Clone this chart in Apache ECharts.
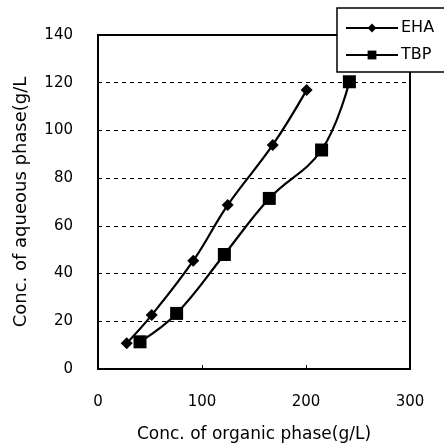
<!DOCTYPE html>
<html>
<head>
<meta charset="utf-8">
<script src="https://cdn.jsdelivr.net/npm/echarts@6/dist/echarts.min.js"></script>
<style>
  html, body { margin: 0; padding: 0; background: #fff; }
  #chart { width: 444px; height: 446px; }
</style>
</head>
<body>
<div id="chart"></div>
<script>
// Organic-phase vs aqueous-phase concentration (g/L) for two extractants
const ehaOrganic = [27.6, 51.6, 91.6, 124.7, 168.0, 200.6];
const ehaAqueous = [10.8, 22.6, 45.4, 68.7, 93.9, 116.9];
const tbpOrganic = [40.4, 75.6, 121.5, 164.7, 215.0, 241.7];
const tbpAqueous = [11.4, 23.3, 48.0, 71.5, 91.8, 120.4];
const seriesNames = ['EHA', 'TBP'];
const xTicks = [0, 100, 200, 300];
const yTicks = [0, 20, 40, 60, 80, 100, 120, 140];

const pairs = (xs, ys) => xs.map((x, i) => [x, ys[i]]);
const FONT = 'DejaVu Sans';

const chart = echarts.init(document.getElementById('chart'), null, { renderer: 'canvas' });
chart.setOption({
  animation: false,
  backgroundColor: '#fff',
  textStyle: { fontFamily: FONT, color: '#000' },
  grid: {
    left: 98, right: 34, top: 35, bottom: 77,
    containLabel: false, outerBoundsMode: 'none',
    show: true, borderColor: '#000', borderWidth: 2, backgroundColor: 'transparent'
  },
  legend: {
    data: seriesNames,
    orient: 'vertical',
    left: 337, top: 8,
    padding: [12, 40, 9, 8],
    itemWidth: 52, itemHeight: 11, itemGap: 11,
    backgroundColor: '#fff',
    borderColor: '#000', borderWidth: 1.5,
    textStyle: { fontFamily: FONT, fontSize: 16, color: '#000', padding: [0, 0, 0, -2] }
  },
  xAxis: {
    type: 'value', min: xTicks[0], max: xTicks[xTicks.length - 1], interval: 100,
    name: 'Conc. of organic phase(g/L)', nameLocation: 'middle', nameGap: 57,
    nameTextStyle: { fontFamily: FONT, fontSize: 17, color: '#000' },
    axisLine: { show: true, lineStyle: { color: '#000', width: 2 } },
    axisTick: { show: true, inside: true, length: 4, lineStyle: { color: '#000' } },
    axisLabel: { margin: 26, fontFamily: FONT, fontSize: 15, color: '#000' },
    splitLine: { show: false }
  },
  yAxis: {
    type: 'value', min: yTicks[0], max: yTicks[yTicks.length - 1], interval: 20,
    name: 'Conc. of aqueous phase(g/L', nameLocation: 'middle', nameGap: 68,
    nameTextStyle: { fontFamily: FONT, fontSize: 18, color: '#000' },
    axisLine: { show: true, lineStyle: { color: '#000', width: 2 } },
    axisTick: { show: true, inside: true, length: 4, lineStyle: { color: '#000' } },
    axisLabel: { margin: 25, fontFamily: FONT, fontSize: 15, color: '#000' },
    splitLine: { show: true, lineStyle: { color: '#000', width: 1, type: [4, 4] } }
  },
  series: [
    {
      name: seriesNames[0], type: 'line', smooth: 0.4,
      data: pairs(ehaOrganic, ehaAqueous),
      symbol: 'diamond', symbolSize: 12,
      lineStyle: { color: '#000', width: 2.2 },
      itemStyle: { color: '#000' }
    },
    {
      name: seriesNames[1], type: 'line', smooth: 0.4,
      data: pairs(tbpOrganic, tbpAqueous),
      symbol: 'rect', symbolSize: 13,
      lineStyle: { color: '#000', width: 2.2 },
      itemStyle: { color: '#000' }
    }
  ]
});
</script>
</body>
</html>
